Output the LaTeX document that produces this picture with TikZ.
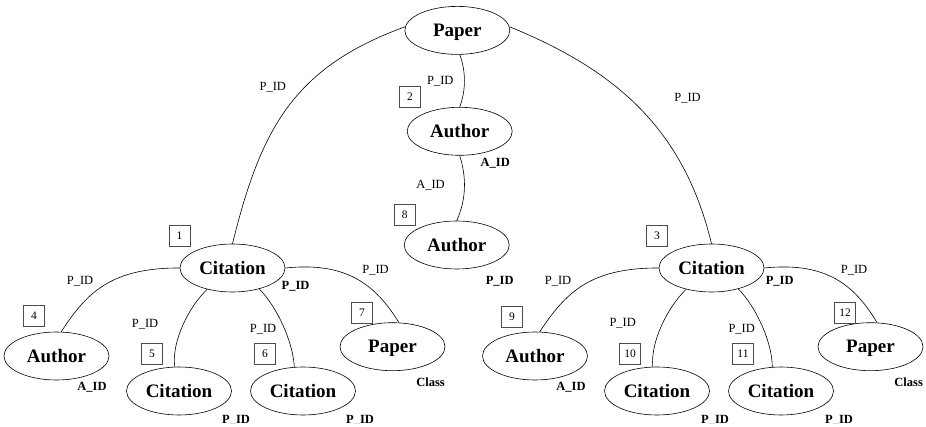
\documentclass[tikz,border=0pt]{standalone}
\usepackage{fontspec}
\setmainfont{Liberation Serif}
\usetikzlibrary{shapes.geometric}
\begin{document}
\begin{tikzpicture}[x=1pt,y=-1pt,
  ent/.style={ellipse,draw,line width=0.6pt,minimum width=105pt,minimum height=48pt,inner sep=0pt,font=\fontsize{19}{19}\selectfont\bfseries,text height=12.5pt,text depth=0pt},
  num/.style={draw=black!70,line width=0.6pt,minimum width=21pt,minimum height=21pt,inner sep=0pt,font=\fontsize{11.5}{11.5}\selectfont},
  lab/.style={font=\fontsize{12.5}{12.5}\selectfont,inner sep=0pt,anchor=base},
  blab/.style={inner sep=0pt,anchor=base,font=\fontsize{12.5}{12.5}\selectfont\bfseries},
  rel/.style={line width=0.6pt}]
\useasboundingbox (0,0) rectangle (926,427);
\clip (0,0) rectangle (926,423.2);
% entities
\node[ent] (paper) at (457.3,30.4) {Paper};
\node[ent] (auth2) at (459.7,131.3) {Author};
\node[ent] (auth8) at (456.7,245) {Author};
\node[ent] (cit1) at (232.5,268) {Citation};
\node[ent] (auth4) at (56.5,356) {Author};
\node[ent] (cit5) at (179,391) {Citation};
\node[ent] (cit6) at (303,391) {Citation};
\node[ent] (pap7) at (392.5,346.7) {Paper};
\node[ent] (cit3) at (711.5,268) {Citation};
\node[ent] (auth9) at (535,356) {Author};
\node[ent] (cit10) at (657,391) {Citation};
\node[ent] (cit11) at (781,391) {Citation};
\node[ent] (pap12) at (870.5,346.7) {Paper};
% number boxes
\node[num] (b1) at (179.5,235.5) {1};
\node[num] (b2) at (410,97) {2};
\node[num] (b3) at (657,235.5) {3};
\node[num] (b4) at (34,316) {4};
\node[num] (b5) at (152,353.5) {5};
\node[num] (b6) at (265,353.5) {6};
\node[num] (b7) at (362,313) {7};
\node[num] (b8) at (404.7,214.5) {8};
\node[num] (b9) at (512,316.5) {9};
\node[num] (b10) at (630,353.5) {10};
\node[num] (b11) at (743,353.5) {11};
\node[num] (b12) at (845,313) {12};
% connectors
\draw[rel] (paper.176) .. controls (293.3,67.6) and (260.9,128.7) .. (cit1.north);
\draw[rel] (paper.4) .. controls (617.5,70.8) and (684,130) .. (cit3.north);
\draw[rel] (paper.-84) .. controls (466,72) and (466,90) .. (auth2.north);
\draw[rel] (auth2.south) .. controls (466.5,177) and (466.5,199) .. (auth8.north);
\draw[rel] (cit1.west) .. controls (110,267.7) and (86,293.7) .. (auth4.79);
\draw[rel] (cit1.220) .. controls (188,308) and (171.5,342) .. (cit5.100);
\draw[rel] (cit1.322) .. controls (277.5,307.3) and (293.3,343) .. (cit6.110);
\draw[rel] (cit1.east) .. controls (346,261.7) and (375,283.9) .. (pap7.75);
\draw[rel] (cit3.west) .. controls (589,267.7) and (565,293.7) .. (auth9.79);
\draw[rel] (cit3.220) .. controls (667,308) and (650.5,342) .. (cit10.100);
\draw[rel] (cit3.322) .. controls (756.5,307.3) and (772.3,343) .. (cit11.110);
\draw[rel] (cit3.east) .. controls (825,261.7) and (854,283.9) .. (pap12.75);
% plain labels
\node[lab] (l1) at (272.8,90.9) {P\_ID};
\node[lab] (l2) at (687.5,101.5) {P\_ID};
\node[lab] (l3) at (440.3,84.9) {P\_ID};
\node[lab] (l4) at (430.5,188.2) {A\_ID};
\node[lab] (l5) at (80,284.2) {P\_ID};
\node[lab] (l6) at (558,284.2) {P\_ID};
\node[lab] (l7) at (375.5,273.2) {P\_ID};
\node[lab] (l8) at (854,273.2) {P\_ID};
\node[lab] (l9) at (145,327.2) {P\_ID};
\node[lab] (l10) at (622.7,326.9) {P\_ID};
\node[lab] (l11) at (263,332.2) {P\_ID};
\node[lab] (l12) at (741.7,332.2) {P\_ID};
% bold labels
\node[blab] (k1) at (495.3,166.5) {A\_ID};
\node[blab] (k2) at (499.7,284.2) {P\_ID};
\node[blab] (k3) at (295.5,289.2) {P\_ID};
\node[blab] (k4) at (779.7,284.2) {P\_ID};
\node[blab] (k5) at (92,390.9) {A\_ID};
\node[blab] (k6) at (571,390.9) {A\_ID};
\node[blab] (k7) at (236,423.0) {P\_ID};
\node[blab] (k8) at (360,423.0) {P\_ID};
\node[blab] (k9) at (715,423.0) {P\_ID};
\node[blab] (k10) at (839,423.0) {P\_ID};
\node[blab] (k11) at (430.5,386.9) {Class};
\node[blab] (k12) at (908.7,386.9) {Class};
\end{tikzpicture}
\end{document}
